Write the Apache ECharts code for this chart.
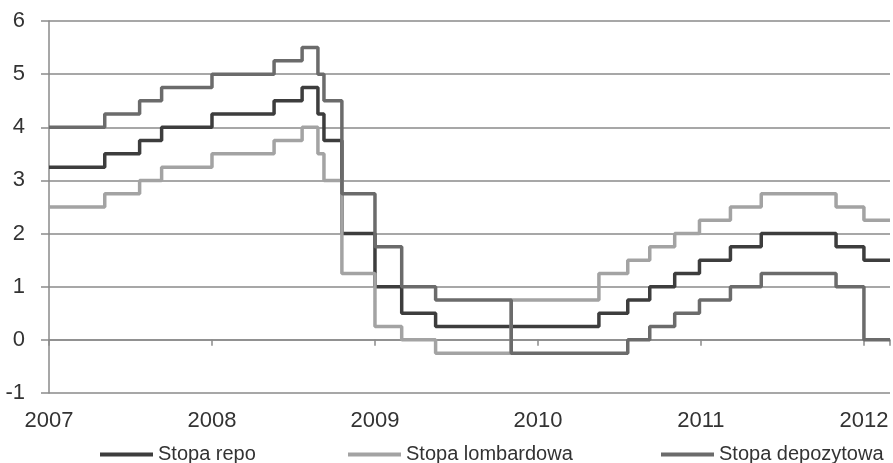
<!DOCTYPE html>
<html>
<head>
<meta charset="utf-8">
<script src="https://cdn.jsdelivr.net/npm/echarts@6/dist/echarts.min.js"></script>
<style>
html,body{margin:0;padding:0;background:#fff;}
#chart{width:893px;height:463px;}
</style>
</head>
<body>
<div id="chart"></div>
<script>
// Change dates (decimal years) and the rate in force from each date
const changeDates = [2007.0, 2007.342, 2007.556, 2007.691, 2008.0, 2008.381, 2008.553, 2008.650, 2008.687, 2008.797, 2009.0, 2009.164, 2009.372, 2009.836, 2010.374, 2010.551, 2010.686, 2010.839, 2010.991, 2011.181, 2011.370, 2011.829, 2012.0, 2012.16];
const stopaRepo = [3.25, 3.5, 3.75, 4.0, 4.25, 4.5, 4.75, 4.25, 3.75, 2.0, 1.0, 0.5, 0.25, 0.25, 0.5, 0.75, 1.0, 1.25, 1.5, 1.75, 2.0, 1.75, 1.5, 1.5];
const stopaLombardowa = [2.5, 2.75, 3.0, 3.25, 3.5, 3.75, 4.0, 3.5, 3.0, 1.25, 0.25, 0.0, -0.25, 0.75, 1.25, 1.5, 1.75, 2.0, 2.25, 2.5, 2.75, 2.5, 2.25, 2.25];
const stopaDepozytowa = [4.0, 4.25, 4.5, 4.75, 5.0, 5.25, 5.5, 5.0, 4.5, 2.75, 1.75, 1.0, 0.75, -0.25, -0.25, 0.0, 0.25, 0.5, 0.75, 1.0, 1.25, 1.0, 0.0, 0.0];
const seriesNames = ['Stopa repo', 'Stopa lombardowa', 'Stopa depozytowa'];
const yearTicks = [2007, 2008, 2009, 2010, 2011, 2012];

const FONT = "'Liberation Sans Narrow', 'Arial Narrow', 'Liberation Sans', Arial, sans-serif";
const gridColor = '#8a8a8a';
const colors = ['#3d3d3d', '#a3a3a3', '#6b6b6b'];

function pairs(vals){ return changeDates.map((d,i)=>[d, vals[i]]); }

const chart = echarts.init(document.getElementById('chart'), null, {renderer:'canvas'});
const mkLegend = (name, left) => ({
  data:[name], left:left, top:437, icon:'rect', itemWidth:53, itemHeight:4,
  textStyle:{fontFamily:FONT, fontSize:20, color:'#333', lineHeight:25}
});
chart.setOption({
  animation:false,
  backgroundColor:'#fff',
  grid:{left:49, right:0, top:21, bottom:70, containLabel:false},
  legend:[mkLegend(seriesNames[0], 95), mkLegend(seriesNames[1], 343), mkLegend(seriesNames[2], 656)],
  xAxis:[{
    type:'value', min:yearTicks[0], max:2012.16, interval:1, position:'bottom',
    axisLine:{show:false, onZero:false}, axisTick:{show:false}, splitLine:{show:false},
    axisLabel:{fontFamily:FONT, fontSize:22, color:'#333', margin:17,
      formatter:v => (Math.abs(v - Math.round(v)) < 1e-6 && yearTicks.indexOf(Math.round(v))>=0) ? String(Math.round(v)) : ''}
  },{
    type:'value', min:yearTicks[0], max:2012.16, interval:1, position:'bottom',
    axisLine:{show:true, onZero:true, lineStyle:{color:gridColor, width:1.5}},
    axisTick:{show:true, length:6, inside:false, lineStyle:{color:gridColor, width:1.5}},
    axisLabel:{show:false}, splitLine:{show:false}
  }],
  yAxis:{
    type:'value', min:-1, max:6, interval:1,
    axisLine:{show:true, lineStyle:{color:gridColor, width:1.5}},
    axisTick:{show:true, length:8, lineStyle:{color:gridColor, width:1.5}},
    splitLine:{show:true, lineStyle:{color:gridColor, width:1.5}},
    axisLabel:{fontFamily:FONT, fontSize:22, color:'#333', margin:24}
  },
  series:[stopaRepo, stopaLombardowa, stopaDepozytowa].map((vals,i)=>({
    name:seriesNames[i], type:'line', step:'end', xAxisIndex:0,
    data:pairs(vals), showSymbol:false, symbol:'none',
    lineStyle:{color:colors[i], width:3.5}, itemStyle:{color:colors[i]}
  }))
});
</script>
</body>
</html>
